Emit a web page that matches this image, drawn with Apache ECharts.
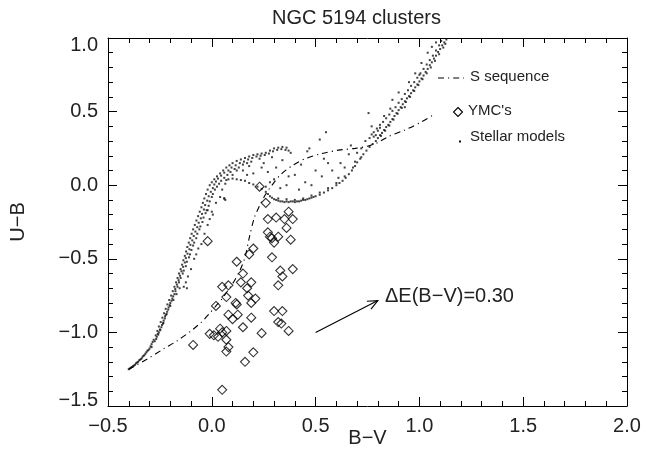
<!DOCTYPE html>
<html>
<head>
<meta charset="utf-8">
<script src="https://cdn.jsdelivr.net/npm/echarts@6/dist/echarts.min.js"></script>
<style>
html,body{margin:0;padding:0;background:#fff;}
#chart{width:653px;height:468px;}
</style>
</head>
<body>
<div id="chart"></div>
<script>
// ---------------- DATA ----------------
const titleText = 'NGC 5194 clusters';
const xName = 'B\u2212V';
const yName = 'U\u2212B';
const xTicks = [-0.5, 0.0, 0.5, 1.0, 1.5, 2.0];
const yTicks = [-1.5, -1.0, -0.5, 0.0, 0.5, 1.0];

// S sequence (B-V, U-B)
const sSequence = [
  [-0.40,-1.25],[-0.31,-1.18],[-0.23,-1.11],[-0.17,-1.06],[-0.10,-0.99],[-0.05,-0.93],
  [-0.01,-0.87],[0.02,-0.82],[0.05,-0.77],[0.08,-0.71],[0.10,-0.67],[0.135,-0.58],
  [0.16,-0.49],[0.18,-0.36],[0.205,-0.22],[0.23,-0.14],[0.26,-0.06],[0.29,0.0],
  [0.33,0.07],[0.39,0.135],[0.45,0.18],[0.53,0.215],[0.61,0.238],[0.69,0.25],
  [0.75,0.265],[0.80,0.29],[0.85,0.33],[0.93,0.375],[1.01,0.43],[1.07,0.48]
];

// Young massive clusters (B-V, U-B)
const ymcs = [
  [0.23,-0.01],[0.26,-0.12],[0.27,-0.23],[0.31,-0.22],[0.37,-0.18],[0.35,-0.23],[0.39,-0.23],
  [0.36,-0.29],[0.27,-0.32],[0.28,-0.35],[0.29,-0.36],[0.32,-0.35],[0.30,-0.39],[0.38,-0.37],
  [-0.02,-0.38],[0.20,-0.43],[0.18,-0.47],[0.29,-0.49],[0.12,-0.52],[0.39,-0.57],[0.33,-0.58],
  [0.15,-0.60],[0.34,-0.62],[0.05,-0.69],[0.08,-0.68],[0.14,-0.66],[0.19,-0.66],[0.32,-0.68],
  [0.17,-0.70],[0.07,-0.76],[0.175,-0.75],[0.21,-0.77],[0.19,-0.80],[0.02,-0.82],[0.115,-0.80],
  [0.12,-0.81],[0.08,-0.88],[0.125,-0.88],[0.10,-0.91],[0.19,-0.90],[0.15,-0.965],[0.24,-1.005],
  [0.30,-0.855],[0.34,-0.855],[0.32,-0.93],[0.335,-0.94],[0.37,-0.99],[0.04,-0.975],[0.07,-0.99],
  [0.05,-1.0],[-0.01,-1.01],[0.01,-1.02],[0.03,-1.03],[0.07,-1.05],[0.08,-1.10],[0.07,-1.13],
  [-0.09,-1.085],[0.20,-1.135],[0.16,-1.20],[0.05,-1.39]
];

// Stellar models (B-V, U-B)
const stellarModels = [
  // blue start
  [-0.40,-1.25],[-0.395,-1.245],[-0.39,-1.24],[-0.385,-1.235],[-0.38,-1.23],[-0.375,-1.225],[-0.37,-1.22],
  [-0.365,-1.21],[-0.36,-1.205],[-0.355,-1.20],[-0.35,-1.19],[-0.345,-1.185],[-0.34,-1.18],[-0.335,-1.17],
  [-0.33,-1.16],[-0.325,-1.155],[-0.32,-1.145],[-0.315,-1.135],[-0.31,-1.125],
  // left branch, outer edge
  [-0.30,-1.11],[-0.29,-1.08],[-0.28,-1.05],[-0.27,-1.02],[-0.262,-0.99],[-0.255,-0.96],[-0.246,-0.93],
  [-0.238,-0.90],[-0.23,-0.87],[-0.222,-0.84],[-0.214,-0.81],[-0.205,-0.78],[-0.196,-0.75],[-0.188,-0.72],
  [-0.18,-0.69],[-0.172,-0.66],[-0.165,-0.63],[-0.158,-0.60],[-0.15,-0.57],[-0.143,-0.54],[-0.137,-0.51],
  [-0.13,-0.48],[-0.124,-0.45],[-0.118,-0.42],[-0.111,-0.39],[-0.104,-0.36],[-0.097,-0.33],[-0.09,-0.30],
  [-0.082,-0.27],[-0.074,-0.24],[-0.066,-0.21],[-0.058,-0.18],[-0.05,-0.15],[-0.043,-0.12],[-0.036,-0.09],
  [-0.028,-0.06],[-0.02,-0.03],[-0.01,0.00],[0.00,0.02],[0.012,0.04],[0.025,0.06],[0.04,0.08],[0.055,0.10],
  [0.07,0.12],[0.085,0.135],[0.10,0.15],[0.12,0.165],[0.14,0.175],[0.16,0.185],[0.18,0.195],[0.20,0.205],
  [0.22,0.21],[0.24,0.215],[0.26,0.22],[0.28,0.235],[0.30,0.25],[0.32,0.255],[0.34,0.26],[0.36,0.255],
  // left branch, middle
  [-0.305,-1.12],[-0.295,-1.095],[-0.285,-1.065],[-0.268,-1.045],[-0.258,-1.015],[-0.248,-0.985],
  [-0.243,-0.965],[-0.233,-0.935],[-0.226,-0.905],[-0.218,-0.875],[-0.21,-0.845],[-0.203,-0.815],
  [-0.194,-0.785],[-0.186,-0.755],[-0.176,-0.705],[-0.168,-0.675],[-0.16,-0.645],[-0.153,-0.615],
  [-0.146,-0.585],[-0.138,-0.555],[-0.13,-0.525],[-0.125,-0.495],[-0.117,-0.465],[-0.108,-0.435],
  [-0.103,-0.405],[-0.094,-0.375],[-0.087,-0.345],[-0.079,-0.315],[-0.07,-0.285],[-0.063,-0.255],
  [-0.053,-0.225],[-0.047,-0.195],[-0.038,-0.165],[-0.032,-0.135],[-0.022,-0.105],[-0.015,-0.075],
  [-0.005,-0.045],[0.005,-0.02],[0.012,0.005],[0.02,0.025],[0.03,0.045],[0.045,0.065],[0.06,0.085],
  [0.08,0.10],[0.095,0.12],[0.115,0.135],[0.135,0.15],[0.155,0.16],[0.175,0.175],[0.195,0.185],
  [0.215,0.195],[0.235,0.20],[0.255,0.205],[0.275,0.215],[0.295,0.23],[0.315,0.24],[0.335,0.245],
  [0.355,0.24],[0.37,0.235],
  // left branch, inner
  [-0.29,-1.10],[-0.275,-1.06],[-0.265,-1.03],[-0.255,-1.0],[-0.25,-0.98],[-0.24,-0.95],[-0.232,-0.92],
  [-0.225,-0.89],[-0.215,-0.86],[-0.208,-0.83],[-0.20,-0.80],[-0.19,-0.77],[-0.18,-0.74],[-0.175,-0.72],
  [-0.165,-0.69],[-0.158,-0.66],[-0.15,-0.63],[-0.14,-0.60],[-0.135,-0.58],[-0.125,-0.55],[-0.12,-0.52],
  [-0.11,-0.49],[-0.105,-0.47],[-0.098,-0.44],[-0.09,-0.41],[-0.085,-0.39],[-0.075,-0.36],[-0.07,-0.33],
  [-0.06,-0.30],[-0.055,-0.28],[-0.045,-0.25],[-0.04,-0.22],[-0.03,-0.19],[-0.025,-0.17],[-0.015,-0.14],
  [-0.01,-0.11],[0.00,-0.08],[0.005,-0.06],[0.015,-0.03],[0.025,-0.01],[0.035,0.01],[0.045,0.03],[0.06,0.05],
  [0.075,0.07],[0.09,0.09],[0.11,0.11],[0.13,0.12],[0.15,0.14],[0.17,0.15],[0.19,0.16],
  // left branch, scattered
  [-0.26,-1.01],[-0.235,-0.94],[-0.22,-0.88],[-0.20,-0.82],[-0.185,-0.78],[-0.17,-0.74],[-0.155,-0.70],
  [-0.135,-0.69],[-0.125,-0.66],[-0.12,-0.70],[-0.115,-0.62],[-0.10,-0.57],[-0.085,-0.50],[-0.075,-0.47],
  [-0.065,-0.43],[-0.05,-0.40],[-0.035,-0.33],[-0.02,-0.27],[-0.01,-0.23],[0.005,-0.20],[-0.02,-0.17],
  [0.0,-0.18],[0.02,-0.12],[0.04,-0.08],[0.06,-0.09],[0.05,-0.03],[0.065,0.01],[0.07,0.035],
  // inner branch and red tail
  [0.08,0.04],[0.10,0.045],[0.12,0.04],[0.14,0.035],[0.16,0.03],[0.18,0.015],[0.20,0.005],[0.22,-0.01],
  [0.24,-0.025],[0.26,-0.045],[0.27,-0.06],[0.28,-0.075],[0.29,-0.085],[0.30,-0.095],[0.31,-0.10],
  [0.32,-0.105],[0.33,-0.11],[0.34,-0.11],[0.35,-0.115],[0.36,-0.11],[0.37,-0.115],[0.38,-0.11],
  [0.39,-0.11],[0.40,-0.115],[0.41,-0.11],[0.42,-0.11],[0.43,-0.105],[0.44,-0.10],[0.45,-0.10],
  [0.46,-0.095],[0.47,-0.09],[0.48,-0.085],[0.49,-0.08],[0.50,-0.075],[0.52,-0.065],[0.54,-0.05],
  [0.56,-0.035],[0.58,-0.02],[0.60,0.0],[0.615,0.015],[0.63,0.03],[0.645,0.05],[0.66,0.075],[0.675,0.10],
  [0.69,0.13],[0.70,0.155],[0.715,0.18],[0.73,0.21],[0.745,0.235],[0.76,0.26],[0.775,0.28],[0.79,0.30],
  [0.80,0.32],[0.81,0.34],[0.82,0.355],[0.83,0.375],[0.84,0.395],[0.85,0.41],[0.86,0.43],[0.87,0.45],
  [0.88,0.47],[0.89,0.49],[0.90,0.51],[0.91,0.53],[0.92,0.55],[0.93,0.57],[0.94,0.59],[0.95,0.605],
  [0.96,0.625],[0.97,0.645],[0.98,0.665],[0.99,0.685],[1.00,0.705],[1.01,0.725],[1.02,0.745],[1.03,0.77],
  [1.04,0.79],[1.05,0.815],[1.06,0.835],[1.07,0.86],[1.08,0.88],[1.09,0.905],[1.10,0.925],[1.11,0.95],
  [1.12,0.97],[1.13,0.99],
  [0.815,0.335],[0.835,0.37],[0.855,0.405],[0.875,0.445],[0.895,0.485],[0.915,0.525],[0.935,0.565],
  [0.955,0.60],[0.975,0.64],[0.995,0.68],[1.015,0.72],[1.035,0.76],[1.055,0.80],[1.075,0.845],
  [1.095,0.89],[1.115,0.935],[1.125,0.96],
  [0.32,-0.09],[0.36,-0.095],[0.40,-0.10],[0.44,-0.09],[0.48,-0.07],[0.52,-0.05],[0.56,-0.02],
  [0.60,0.015],[0.64,0.06],[0.68,0.12],[0.72,0.19],
  // upper-left sparse band
  [0.74,0.30],[0.76,0.32],[0.77,0.345],[0.78,0.36],[0.795,0.385],[0.81,0.41],[0.825,0.43],[0.84,0.455],
  [0.855,0.48],[0.87,0.505],[0.885,0.53],[0.90,0.56],[0.915,0.585],[0.93,0.62],[0.945,0.645],[0.96,0.675],
  [0.975,0.70],[0.99,0.73],[1.005,0.76],[1.02,0.79],[1.035,0.82],[1.05,0.85],[1.065,0.88],[1.08,0.915],
  [1.095,0.95],[1.105,0.98],
  [0.755,0.49],[0.80,0.37],[0.81,0.39],[0.83,0.47],[0.87,0.58],[0.90,0.63],[0.93,0.53],[0.95,0.70],
  [0.98,0.76],[1.00,0.75],[1.01,0.83],[1.04,0.90],[1.06,0.94],[1.08,0.97],[0.77,0.40],[0.86,0.52],
  [0.79,0.34],[0.78,0.33],
  // loop interior, scattered
  [0.25,0.15],[0.27,0.09],[0.34,0.17],[0.38,0.22],[0.46,0.23],[0.50,0.10],[0.56,0.15],[0.61,0.05],
  [0.45,0.02],[0.53,0.06],[0.33,-0.02],[0.42,-0.03],[0.20,0.08],[0.64,0.12],[0.69,0.16],[0.58,0.10],
  [0.40,0.07],[0.30,0.04],[0.36,0.0],[0.48,0.0],[0.62,0.15],[0.52,0.31],[0.55,0.36],[0.47,0.25],
  [0.29,0.19],[0.31,0.12],[0.24,0.12],[0.23,0.18],[0.12,0.10],[0.10,0.07],[0.06,-0.09],[0.065,-0.10],
  [0.66,0.21],[0.70,0.22],[0.72,0.25],[0.67,0.27],[0.54,0.18],[0.43,0.14],[0.37,0.06],[0.26,-0.01],
  [0.28,0.02],[0.15,0.10],[0.18,0.13],[0.17,0.07]
];

// Reddening vector: [x0, y0, x1, y1]
const reddeningArrow = [[0.5, -1.0, 0.8, -0.784]];
const reddeningLabel = '\u0394E(B\u2212V)=0.30';

const legendLabels = ['S sequence', "YMC's", 'Stellar models'];

// ---------------- CHART ----------------
const chart = echarts.init(document.getElementById('chart'), null, {renderer: 'canvas'});
const FONT = "'Liberation Sans', Arial, sans-serif";
const fmt = v => {
  const s = Math.abs(v) < 1e-9 ? '0.0' : v.toFixed(1);
  return s.replace('-', '\u2212');
};
const tickFmt = v => {
  const s = fmt(v);
  if (Math.abs(v - yTicks[yTicks.length-1]) < 1e-9) return '{top|' + s + '}';
  if (Math.abs(v - yTicks[0]) < 1e-9) return '{bot|' + s + '}';
  return '{mid|' + s + '}';
};
const labelRich = {
  top: {fontSize: 20, fontFamily: FONT, color: '#222', padding: [14, 0, 0, 0]},
  bot: {fontSize: 20, fontFamily: FONT, color: '#222', padding: [0, 0, 12, 0]},
  mid: {fontSize: 20, fontFamily: FONT, color: '#222'}
};
const lineCol = '#000';
const baseAxis = {
  axisLine: {show: true, onZero: false, lineStyle: {color: lineCol, width: 1}},
  axisTick: {show: true, inside: true, length: 9, lineStyle: {color: lineCol, width: 1}},
  minorTick: {show: true, splitNumber: 5, length: 5, lineStyle: {color: lineCol, width: 1}},
  splitLine: {show: false},
  minorSplitLine: {show: false}
};

const option = {
  animation: false,
  backgroundColor: '#fff',
  grid: {left: 103, right: 26, top: 38, bottom: 62, containLabel: false},
  xAxis: [
    Object.assign({}, baseAxis, {
      type: 'value', min: xTicks[0], max: xTicks[xTicks.length-1], interval: 0.5, position: 'bottom',
      name: xName, nameLocation: 'middle', nameGap: 22, nameMoveOverlap: false,
      nameTextStyle: {fontSize: 20, fontFamily: FONT, color: '#222', verticalAlign: 'top'},
      axisLabel: {show: true, margin: 10, formatter: fmt, fontSize: 20, fontFamily: FONT, color: '#222'}
    }),
    Object.assign({}, baseAxis, {
      type: 'value', min: xTicks[0], max: xTicks[xTicks.length-1], interval: 0.5, position: 'top',
      axisLabel: {show: false}
    })
  ],
  yAxis: [
    Object.assign({}, baseAxis, {
      type: 'value', min: yTicks[0], max: yTicks[yTicks.length-1], interval: 0.5, position: 'left',
      name: yName, nameLocation: 'middle', nameGap: 80, nameRotate: 90, nameMoveOverlap: false,
      nameTextStyle: {fontSize: 20, fontFamily: FONT, color: '#222'},
      axisLabel: {show: true, margin: 10, formatter: tickFmt, rich: labelRich}
    }),
    Object.assign({}, baseAxis, {
      type: 'value', min: yTicks[0], max: yTicks[yTicks.length-1], interval: 0.5, position: 'right',
      axisLabel: {show: false}
    })
  ],
  series: [
    {
      name: legendLabels[2], type: 'scatter', data: stellarModels, symbol: 'rect', symbolSize: 2,
      itemStyle: {color: '#111'}, silent: true
    },
    {
      name: legendLabels[0], type: 'line', data: sSequence, showSymbol: false, symbol: 'none', smooth: 0.3,
      lineStyle: {color: '#000', width: 1.1, type: [6, 4, 1.2, 4]}, silent: true
    },
    {
      name: legendLabels[1], type: 'scatter', data: ymcs, symbol: 'diamond', symbolSize: 9,
      itemStyle: {color: 'rgba(0,0,0,0)', borderColor: '#000', borderWidth: 1.1}, silent: true
    },
    {
      type: 'custom', data: reddeningArrow, silent: true,
      renderItem: function (params, api) {
        const p0 = api.coord([api.value(0), api.value(1)]);
        const p1 = api.coord([api.value(2), api.value(3)]);
        const ang = Math.atan2(p1[1] - p0[1], p1[0] - p0[0]);
        const L = 11, a = 0.42;
        const h1 = [p1[0] - L * Math.cos(ang - a), p1[1] - L * Math.sin(ang - a)];
        const h2 = [p1[0] - L * Math.cos(ang + a), p1[1] - L * Math.sin(ang + a)];
        return {
          type: 'group',
          children: [
            {type: 'line', shape: {x1: p0[0], y1: p0[1], x2: p1[0], y2: p1[1]}, style: {stroke: '#000', lineWidth: 1.1}},
            {type: 'polyline', shape: {points: [h1, p1, h2]}, style: {stroke: '#000', lineWidth: 1.1, fill: null}}
          ]
        };
      }
    }
  ],
  graphic: [
    {type: 'text', left: 272, top: 8, style: {text: titleText, font: '20px ' + FONT, fill: '#222'}},
    {type: 'text', left: 385, top: 286, style: {text: reddeningLabel, font: '20px ' + FONT, fill: '#222'}},
    // legend
    {type: 'line', shape: {x1: 438, y1: 78, x2: 464, y2: 78}, style: {stroke: '#000', lineWidth: 1.1, lineDash: [6, 4, 1.2, 4]}},
    {type: 'text', left: 470, top: 69, style: {text: legendLabels[0], font: '15px ' + FONT, fill: '#222'}},
    {type: 'polygon', shape: {points: [[458, 107.5], [462.5, 112], [458, 116.5], [453.5, 112]]}, style: {stroke: '#000', lineWidth: 1.1, fill: null}},
    {type: 'text', left: 468, top: 103, style: {text: legendLabels[1], font: '15px ' + FONT, fill: '#222'}},
    {type: 'rect', shape: {x: 459, y: 140.5, width: 2, height: 2}, style: {fill: '#111'}},
    {type: 'text', left: 470, top: 129, style: {text: legendLabels[2], font: '15px ' + FONT, fill: '#222'}}
  ]
};
chart.setOption(option);
</script>
</body>
</html>
